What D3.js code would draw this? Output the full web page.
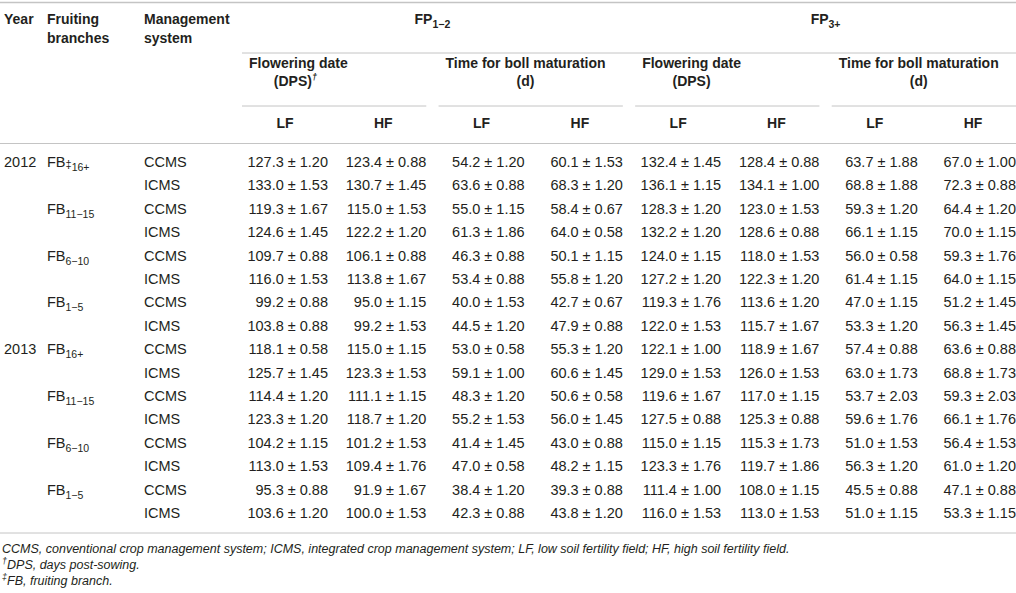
<!DOCTYPE html>
<html>
<head>
<meta charset="utf-8">
<script src="https://cdn.jsdelivr.net/npm/d3@7"></script>
<style>
  body { margin: 0; background: #fff; }
  svg text { font-family: "Liberation Sans", Arial, sans-serif; fill: #231f20; }
</style>
</head>
<body>
<svg id="tbl" width="1016" height="593"></svg>
<script>
// table content
const years = ["2012", "2013"];
const branchSubs = ["16+", "11\u221215", "6\u221210", "1\u22125"];
const systems = ["CCMS", "ICMS"];
const groups = ["1\u22122", "3+"];
const traits = [["Flowering date", "(DPS)"], ["Time for boll maturation", "(d)"]];
const fields = ["LF", "HF"];

// mean, SE per column (rows: year > branch > system)
const fp12FlowerLF = [[127.3,1.20],[133.0,1.53],[119.3,1.67],[124.6,1.45],[109.7,0.88],[116.0,1.53],[99.2,0.88],[103.8,0.88],
                      [118.1,0.58],[125.7,1.45],[114.4,1.20],[123.3,1.20],[104.2,1.15],[113.0,1.53],[95.3,0.88],[103.6,1.20]];
const fp12FlowerHF = [[123.4,0.88],[130.7,1.45],[115.0,1.53],[122.2,1.20],[106.1,0.88],[113.8,1.67],[95.0,1.15],[99.2,1.53],
                      [115.0,1.15],[123.3,1.53],[111.1,1.15],[118.7,1.20],[101.2,1.53],[109.4,1.76],[91.9,1.67],[100.0,1.53]];
const fp12BollLF   = [[54.2,1.20],[63.6,0.88],[55.0,1.15],[61.3,1.86],[46.3,0.88],[53.4,0.88],[40.0,1.53],[44.5,1.20],
                      [53.0,0.58],[59.1,1.00],[48.3,1.20],[55.2,1.53],[41.4,1.45],[47.0,0.58],[38.4,1.20],[42.3,0.88]];
const fp12BollHF   = [[60.1,1.53],[68.3,1.20],[58.4,0.67],[64.0,0.58],[50.1,1.15],[55.8,1.20],[42.7,0.67],[47.9,0.88],
                      [55.3,1.20],[60.6,1.45],[50.6,0.58],[56.0,1.45],[43.0,0.88],[48.2,1.15],[39.3,0.88],[43.8,1.20]];
const fp3FlowerLF  = [[132.4,1.45],[136.1,1.15],[128.3,1.20],[132.2,1.20],[124.0,1.15],[127.2,1.20],[119.3,1.76],[122.0,1.53],
                      [122.1,1.00],[129.0,1.53],[119.6,1.67],[127.5,0.88],[115.0,1.15],[123.3,1.76],[111.4,1.00],[116.0,1.53]];
const fp3FlowerHF  = [[128.4,0.88],[134.1,1.00],[123.0,1.53],[128.6,0.88],[118.0,1.53],[122.3,1.20],[113.6,1.20],[115.7,1.67],
                      [118.9,1.67],[126.0,1.53],[117.0,1.15],[125.3,0.88],[115.3,1.73],[119.7,1.86],[108.0,1.15],[113.0,1.53]];
const fp3BollLF    = [[63.7,1.88],[68.8,1.88],[59.3,1.20],[66.1,1.15],[56.0,0.58],[61.4,1.15],[47.0,1.15],[53.3,1.20],
                      [57.4,0.88],[63.0,1.73],[53.7,2.03],[59.6,1.76],[51.0,1.53],[56.3,1.20],[45.5,0.88],[51.0,1.15]];
const fp3BollHF    = [[67.0,1.00],[72.3,0.88],[64.4,1.20],[70.0,1.15],[59.3,1.76],[64.0,1.15],[51.2,1.45],[56.3,1.45],
                      [63.6,0.88],[68.8,1.73],[59.3,2.03],[66.1,1.76],[56.4,1.53],[61.0,1.20],[47.1,0.88],[53.3,1.15]];

const footnotes = [
  ["", "CCMS, conventional crop management system; ICMS, integrated crop management system; LF, low soil fertility field; HF, high soil fertility field."],
  ["\u2020", "DPS, days post-sowing."],
  ["\u2021", "FB, fruiting branch."]
];

const columns = [fp12FlowerLF, fp12FlowerHF, fp12BollLF, fp12BollHF, fp3FlowerLF, fp3FlowerHF, fp3BollLF, fp3BollHF];

const svg = d3.select("#tbl");
const W = 1016;
const ruleColor = "#c4c4c4";
const nRows = columns[0].length;

// column + row scales
const x = d3.scaleBand().domain(d3.range(8)).range([242, 1016]).paddingInner(0.125);
const y = d3.scalePoint().domain(d3.range(nRows)).range([167, 518]);
const fmt = d => `${d[0].toFixed(1)} \u00b1 ${d[1].toFixed(2)}`;

function rule(y0, x0, x1, w) {
  svg.append("line").attr("x1", x0).attr("x2", x1).attr("y1", y0).attr("y2", y0)
    .attr("stroke", ruleColor).attr("stroke-width", w || 1);
}

// --- rules ---
rule(2.5, 0, W, 1.5);
rule(53, 242, W);
for (let k = 0; k < 4; k++) rule(106, x(2 * k), x(2 * k + 1) + x.bandwidth());
rule(143.5, 0, W);
rule(533, 0, W);

// --- header ---
const hdr = svg.append("g").attr("font-size", 14).attr("font-weight", "bold");
hdr.append("text").attr("x", 4).attr("y", 24).text("Year");
hdr.append("text").attr("x", 47).attr("y", 24).text("Fruiting");
hdr.append("text").attr("x", 47).attr("y", 43).text("branches");
hdr.append("text").attr("x", 144).attr("y", 24).text("Management");
hdr.append("text").attr("x", 144).attr("y", 43).text("system");

groups.forEach((g, gi) => {
  const cx = (x(gi * 4) + x(gi * 4 + 3) + x.bandwidth()) / 2;
  const t = hdr.append("text").attr("x", cx).attr("y", 24).attr("text-anchor", "middle");
  t.append("tspan").text("FP");
  t.append("tspan").attr("font-size", 10.5).attr("dy", 4).text(g);
});

groups.forEach((g, gi) => {
  traits.forEach((tr, ti) => {
    const x0 = x(gi * 4 + ti * 2) + 7;
    const l1 = hdr.append("text").attr("x", x0).attr("y", 68).text(tr[0]);
    const cx = x0 + l1.node().getComputedTextLength() / 2;
    const l2 = hdr.append("text").attr("x", cx).attr("y", 86).attr("text-anchor", "middle").text(tr[1]);
    if (gi === 0 && ti === 0) {
      l2.attr("x", cx - 3);
      l2.append("tspan").attr("font-size", 9).attr("font-style", "italic").attr("dy", -6).text("\u2020");
    }
    fields.forEach((f, fi) => {
      const ci = gi * 4 + ti * 2 + fi;
      hdr.append("text").attr("x", x(ci) + x.bandwidth() / 2).attr("y", 128)
        .attr("text-anchor", "middle").text(f);
    });
  });
});

// --- body ---
const body = svg.append("g").attr("font-size", 14.5);
years.forEach((yr, yi) => {
  body.append("text").attr("x", 4).attr("y", y(yi * 8)).text(yr);
  branchSubs.forEach((b, bi) => {
    const r = yi * 8 + bi * 2;
    const t = body.append("text").attr("x", 47).attr("y", y(r)).text("FB");
    if (yi === 0 && bi === 0) {
      t.append("tspan").attr("font-size", 11).attr("dy", 1).text("\u2021");
      t.append("tspan").attr("font-size", 10.5).attr("dy", 3).text(b);
    } else {
      t.append("tspan").attr("font-size", 10.5).attr("dy", 4).text(b);
    }
    systems.forEach((s, si) => {
      body.append("text").attr("x", 144).attr("y", y(r + si)).text(s);
    });
  });
});

columns.forEach((col, ci) => {
  body.selectAll(null).data(col).join("text")
    .attr("x", x(ci) + x.bandwidth())
    .attr("y", (d, i) => y(i))
    .attr("text-anchor", "end")
    .text(fmt);
});

// --- footnotes ---
const foot = svg.append("g").attr("font-size", 12.5).attr("font-style", "italic");
footnotes.forEach((f, i) => {
  const t = foot.append("text").attr("x", 2).attr("y", 553 + i * 16);
  if (f[0]) t.append("tspan").attr("font-size", 9).attr("dy", -5).text(f[0]);
  t.append("tspan").attr("dy", f[0] ? 5 : 0).text(f[1]);
});
</script>
</body>
</html>
